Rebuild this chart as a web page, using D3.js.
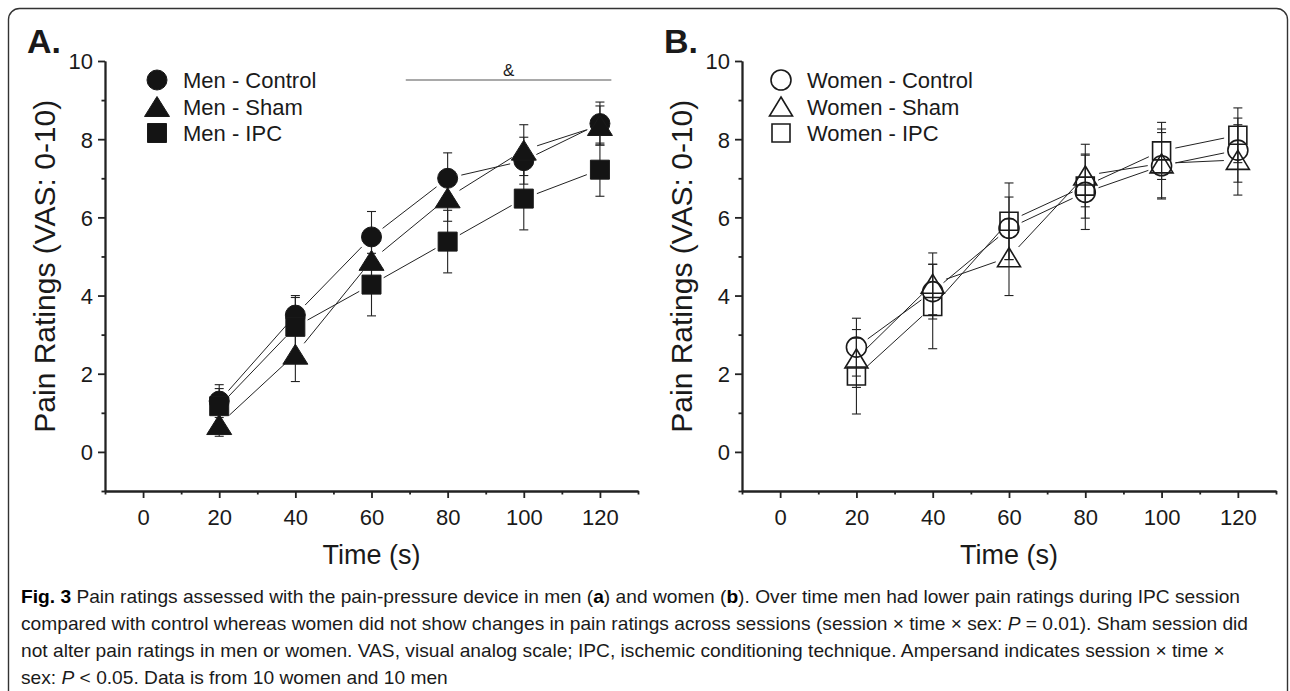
<!DOCTYPE html>
<html>
<head>
<meta charset="utf-8">
<script src="https://cdn.jsdelivr.net/npm/d3@7"></script>
<style>
  body { margin: 0; background: #fff; }
  text { font-family: "Liberation Sans", Arial, sans-serif; fill: #1a1a1a; }
</style>
</head>
<body>
<svg id="fig" width="1290" height="691"></svg>
<script>
// time points (s)
const times = [20, 40, 60, 80, 100, 120];

// panel A - men
const menControl = [1.3, 3.5, 5.5, 7.0, 7.45, 8.4];
const menControlErr = [0.42, 0.5, 0.65, 0.65, 0.6, 0.55];
const menSham = [0.7, 2.5, 4.9, 6.5, 7.72, 8.35];
const menShamErr = [0.3, 0.7, 0.7, 0.6, 0.65, 0.5];
const menIPC = [1.17, 3.2, 4.28, 5.38, 6.48, 7.22];
const menIPCErr = [0.45, 0.75, 0.8, 0.8, 0.8, 0.68];

// panel B - women
const womenControl = [2.68, 4.1, 5.72, 6.64, 7.32, 7.72];
const womenControlErr = [0.74, 0.7, 0.8, 0.95, 0.85, 0.82];
const womenSham = [2.39, 4.3, 4.98, 7.07, 7.38, 7.47];
const womenShamErr = [0.74, 0.79, 0.98, 0.8, 0.88, 0.9];
const womenIPC = [1.94, 3.72, 5.9, 6.8, 7.7, 8.1];
const womenIPCErr = [0.97, 1.08, 0.98, 0.82, 0.73, 0.7];

const legendA = ["Men - Control", "Men - Sham", "Men - IPC"];
const legendB = ["Women - Control", "Women - Sham", "Women - IPC"];

const xTicksMajor = d3.range(0, 121, 20);
const xTicksMinor = d3.range(-10, 131, 20);
const yTicksMajor = d3.range(0, 11, 2);
const yTicksMinor = d3.range(-1, 10, 2);

// significance bar over panel A (time range)
const sigRange = [69, 123];

const svg = d3.select("#fig");

// outer frame
svg.append("rect")
   .attr("x", 8.5).attr("y", 8.5)
   .attr("width", 1279).attr("height", 720)
   .attr("rx", 11)
   .attr("fill", "none")
   .attr("stroke", "#333")
   .attr("stroke-width", 1.4);

const y = d3.scaleLinear().domain([-1, 10]).range([491, 61]);

function shapePath(shape, open) {
  // returns path string centred at 0,0
  if (shape === "circle") {
    const r = 10;
    return `M${r},0A${r},${r} 0 1,1 ${-r},0A${r},${r} 0 1,1 ${r},0Z`;
  }
  if (shape === "triangle") {
    const w = open ? 11.5 : 12.5, h = open ? 9.5 : 10;
    return `M0,${-h}L${w},${h}L${-w},${h}Z`;
  }
  const s = open ? 9 : 9.5;
  return `M${-s},${-s}H${s}V${s}H${-s}Z`;
}

function drawPanel(opts) {
  const x = d3.scaleLinear().domain([-10, 130]).range(opts.xRange);
  const g = svg.append("g");

  // axes: minor ticks then major ticks with labels
  g.append("g")
   .attr("transform", `translate(0,${y(-1)})`)
   .call(d3.axisBottom(x).tickValues(xTicksMinor).tickSize(3.5).tickSizeOuter(0).tickFormat(""));
  g.append("g")
   .attr("transform", `translate(0,${y(-1)})`)
   .call(d3.axisBottom(x).tickValues(xTicksMajor).tickSize(7).tickSizeOuter(0).tickPadding(11))
   .selectAll("text").style("font-size", "22px");
  g.append("g")
   .attr("transform", `translate(${x(-10)},0)`)
   .call(d3.axisLeft(y).tickValues(yTicksMinor).tickSize(3.5).tickSizeOuter(0).tickFormat(""));
  g.append("g")
   .attr("transform", `translate(${x(-10)},0)`)
   .call(d3.axisLeft(y).tickValues(yTicksMajor).tickSize(7).tickSizeOuter(0).tickPadding(5))
   .selectAll("text").style("font-size", "22px").attr("dy", "0.36em");
  g.selectAll(".domain, .tick line").attr("stroke", "#222").attr("stroke-width", 1.8);
  g.selectAll(".tick text").attr("fill", "#1a1a1a");

  // axis titles
  g.append("text")
   .attr("x", x(60)).attr("y", 564)
   .attr("text-anchor", "middle")
   .style("font-size", "27px")
   .text("Time (s)");
  g.append("text")
   .attr("transform", `translate(${opts.xRange[0] - 50},${y(4.75)}) rotate(-90)`)
   .attr("text-anchor", "middle")
   .style("font-size", "30px")
   .text("Pain Ratings (VAS: 0-10)");

  // panel letter
  g.append("text")
   .attr("x", opts.xRange[0] - 78).attr("y", 53)
   .style("font-size", "34px").style("font-weight", "bold")
   .attr("fill", "#111")
   .text(opts.letter);

  const series = opts.series;

  // error bars
  series.forEach(s => {
    const eg = g.append("g").attr("stroke", "#222").attr("stroke-width", 1.1);
    times.forEach((t, i) => {
      const cx = x(t), hi = y(s.values[i] + s.err[i]), lo = y(s.values[i] - s.err[i]);
      eg.append("line").attr("x1", cx).attr("x2", cx).attr("y1", hi).attr("y2", lo);
      eg.append("line").attr("x1", cx - 4.5).attr("x2", cx + 4.5).attr("y1", hi).attr("y2", hi);
      eg.append("line").attr("x1", cx - 4.5).attr("x2", cx + 4.5).attr("y1", lo).attr("y2", lo);
    });
  });

  // connecting lines with gaps next to the symbols
  const gap = 14;
  series.forEach(s => {
    for (let i = 0; i < times.length - 1; i++) {
      const x1 = x(times[i]), y1 = y(s.values[i]);
      const x2 = x(times[i + 1]), y2 = y(s.values[i + 1]);
      const len = Math.hypot(x2 - x1, y2 - y1);
      const ux = (x2 - x1) / len, uy = (y2 - y1) / len;
      g.append("line")
       .attr("x1", x1 + ux * gap).attr("y1", y1 + uy * gap)
       .attr("x2", x2 - ux * gap).attr("y2", y2 - uy * gap)
       .attr("stroke", "#222").attr("stroke-width", 1);
    }
  });

  // symbols
  series.forEach(s => {
    g.selectAll(null)
     .data(s.values)
     .enter()
     .append("path")
     .attr("d", shapePath(s.shape, opts.open))
     .attr("transform", (d, i) => `translate(${x(times[i])},${y(d)})`)
     .attr("fill", opts.open ? "none" : "#141414")
     .attr("stroke", "#1a1a1a")
     .attr("stroke-width", opts.open ? 1.6 : 1);
  });

  // legend
  const lg = g.append("g");
  series.forEach((s, i) => {
    const ly = 80 + i * 26.5;
    lg.append("path")
      .attr("d", shapePath(s.shape, opts.open))
      .attr("transform", `translate(${opts.legendX},${ly})`)
      .attr("fill", opts.open ? "none" : "#141414")
      .attr("stroke", "#1a1a1a")
      .attr("stroke-width", opts.open ? 1.6 : 1);
    lg.append("text")
      .attr("x", opts.legendX + 26).attr("y", ly + 8)
      .style("font-size", "22px")
      .text(opts.legend[i]);
  });

  return x;
}

const xA = drawPanel({
  xRange: [105, 638], letter: "A.", open: false, legendX: 157, legend: legendA,
  series: [
    { values: menControl, err: menControlErr, shape: "circle" },
    { values: menSham, err: menShamErr, shape: "triangle" },
    { values: menIPC, err: menIPCErr, shape: "square" }
  ]
});

drawPanel({
  xRange: [742, 1276], letter: "B.", open: true, legendX: 781, legend: legendB,
  series: [
    { values: womenControl, err: womenControlErr, shape: "circle" },
    { values: womenSham, err: womenShamErr, shape: "triangle" },
    { values: womenIPC, err: womenIPCErr, shape: "square" }
  ]
});

// significance marker
svg.append("line")
   .attr("x1", xA(sigRange[0])).attr("x2", xA(sigRange[1]))
   .attr("y1", 80).attr("y2", 80)
   .attr("stroke", "#555").attr("stroke-width", 1.1);
svg.append("text")
   .attr("x", (xA(sigRange[0]) + xA(sigRange[1])) / 2).attr("y", 76)
   .attr("text-anchor", "middle")
   .style("font-size", "17px")
   .text("&");

// caption (lines squeezed to the width of the reference, same ratio for all)
const captionLines = [
  [["Fig. 3", "b"], [" Pain ratings assessed with the pain-pressure device in men ("], ["a", "b"], [") and women ("], ["b", "b"], ["). Over time men had lower pain ratings during IPC session"]],
  [["compared with control whereas women did not show changes in pain ratings across sessions (session \u00d7 time \u00d7 sex: "], ["P", "i"], [" = 0.01). Sham session did"]],
  [["not alter pain ratings in men or women. VAS, visual analog scale; IPC, ischemic conditioning technique. Ampersand indicates session \u00d7 time \u00d7"]],
  [["sex: "], ["P", "i"], [" < 0.05. Data is from 10 women and 10 men"]]
];
const captionFirstWidth = 1219;

const capNodes = captionLines.map((parts, i) => {
  const t = svg.append("text")
    .attr("x", 21).attr("y", 603 + i * 27)
    .style("font-size", "19px")
    .attr("fill", "#222");
  parts.forEach(p => {
    const sp = t.append("tspan").text(p[0]);
    if (p[1] === "b") sp.style("font-weight", "bold").attr("fill", "#000");
    if (p[1] === "i") sp.style("font-style", "italic");
  });
  return t;
});
const squeeze = captionFirstWidth / capNodes[0].node().getComputedTextLength();
capNodes.forEach(t => {
  t.attr("textLength", t.node().getComputedTextLength() * squeeze)
   .attr("lengthAdjust", "spacingAndGlyphs");
});
</script>
</body>
</html>
